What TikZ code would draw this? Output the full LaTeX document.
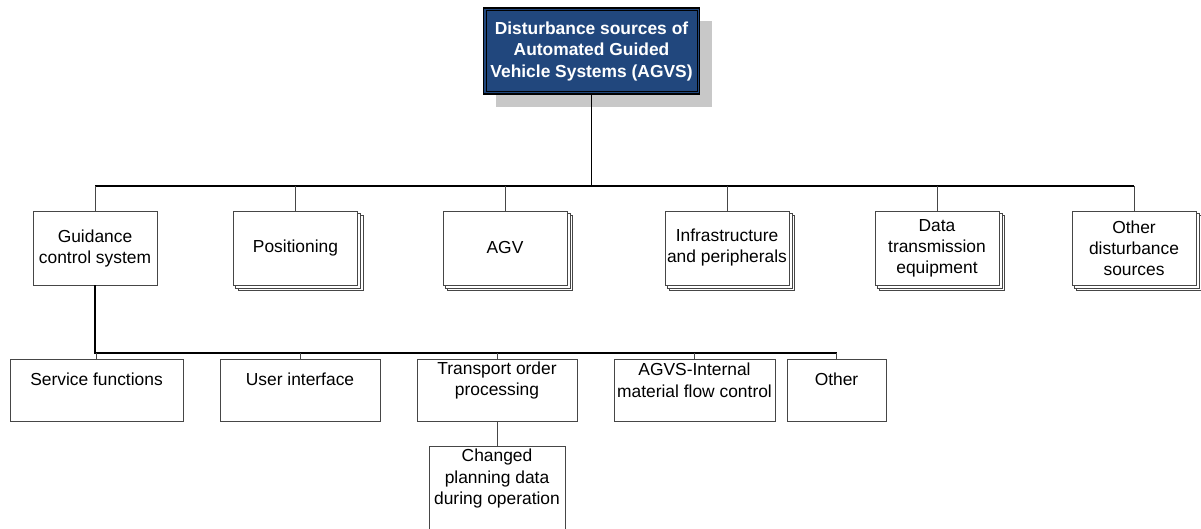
\documentclass[tikz,border=0pt]{standalone}
\usepackage{fontspec}
\setmainfont{Liberation Sans}
\usetikzlibrary{shadows,backgrounds}

\definecolor{agvsblue}{RGB}{33,71,125}
\definecolor{shadowgray}{RGB}{200,200,200}
\definecolor{boxline}{RGB}{70,70,70}

\tikzset{
  rootbox/.style={draw=black, line width=1.2pt, fill=agvsblue, text=white,
    minimum width=216pt, minimum height=86pt, inner sep=0pt, align=center,
    font=\fontsize{17.4}{21.5}\selectfont\bfseries,
    drop shadow={shadow xshift=12pt, shadow yshift=-13pt, fill=shadowgray, opacity=1}},
  groupbox/.style={draw=boxline, line width=0.8pt, fill=white,
    minimum width=124pt, minimum height=74pt, inner sep=0pt, align=center,
    font=\fontsize{17.4}{21}\selectfont},
  subbox/.style={draw=boxline, line width=0.8pt, fill=white,
    minimum height=62pt, inner sep=0pt},
  boxtext/.style={inner sep=0pt, align=center, font=\fontsize{17.4}{21.5}\selectfont},
  stackline/.style={draw=boxline, line width=0.8pt, fill=white},
  trunk/.style={draw=black, line width=1.2pt},
  drop/.style={draw=boxline, line width=0.8pt}
}

\begin{document}
\begin{tikzpicture}[x=1pt, y=-1pt]
\useasboundingbox (0,0) rectangle (1201,528);
\clip (0,0) rectangle (1201,528);

% root
\node[rootbox] (root) at (591.5,51) {Disturbance sources of\\Automated Guided\\Vehicle Systems (AGVS)};
\draw[line width=0.6pt] ([shift={(3,3)}]root.north west) rectangle ([shift={(-3,-3)}]root.south east);

% first level
\node[groupbox] (guide) at (95,248) {Guidance\\control system};
\node[groupbox] (pos) at (295.5,248) {Positioning};
\node[groupbox] (agv) at (505,248) {AGV};
\node[groupbox] (infra) at (727,248) {Infrastructure\\and peripherals};
\node[groupbox] (data) at (937,248) {Data\\transmission\\equipment};
\node[groupbox] (other) at (1134,248) {Other\\disturbance\\sources};

\begin{scope}[on background layer]
  \foreach \n in {pos,agv,infra,data,other}
    \foreach \d in {5,2.5}
      \draw[stackline] ([shift={(\d,\d)}]\n.north west) rectangle ([shift={(\d,\d)}]\n.south east);
\end{scope}

\coordinate (bus1) at (0,186);
\draw[trunk] (root.south) -- (root.south |- bus1);
\draw[trunk] (guide.north |- bus1) -- (other.north |- bus1);
\foreach \n in {guide,pos,agv,infra,data,other}
  \draw[drop] (\n.north |- bus1) -- (\n.north);

% second level (guidance control system)
\node[subbox, minimum width=173pt] (svc) at (96.5,390) {};
\node[subbox, minimum width=160pt] (ui) at (300,390) {};
\node[subbox, minimum width=160pt] (tord) at (497,390) {};
\node[subbox, minimum width=161pt] (mfc) at (694.5,390) {};
\node[subbox, minimum width=99pt] (oth) at (836.5,390) {};
\node[subbox, minimum width=136pt, minimum height=100pt, anchor=north] (chg) at (497,446) {};

\node[boxtext] (svc-t) at (96.5,379) {Service functions};
\node[boxtext] (ui-t) at (300,379) {User interface};
\node[boxtext] (tord-t) at (497,380.5) {Transport order\\processing};
\node[boxtext] (mfc-t) at (694.5,380.5) {AGVS-Internal\\material flow control};
\node[boxtext] (oth-t) at (836.5,379) {Other};
\node[boxtext] (chg-t) at (497,478.5) {Changed\\planning data\\during operation};

\coordinate (bus2) at (0,353);
\draw[trunk] (guide.south) -- (guide.south |- bus2) -- (oth.north |- bus2);
\foreach \n in {svc,ui,tord,mfc,oth}
  \draw[drop] (\n.north |- bus2) -- (\n.north);
\draw[drop] (tord.south) -- (chg.north);
\end{tikzpicture}
\end{document}
